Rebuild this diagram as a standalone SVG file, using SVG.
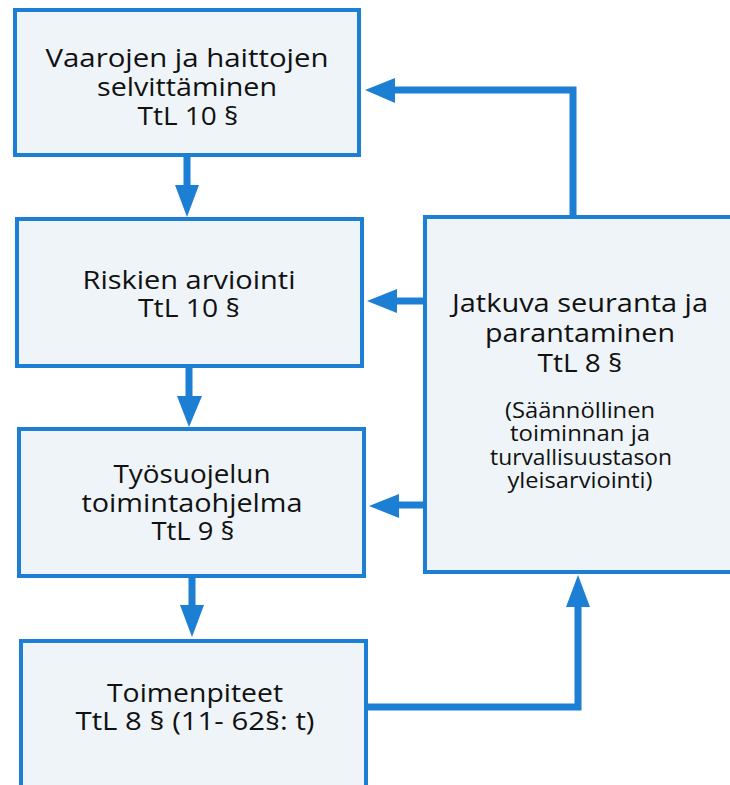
<svg xmlns="http://www.w3.org/2000/svg" width="730" height="785" viewBox="0 0 730 785">
<style>
.box{fill:#eef4f8;stroke:#1c7fd3;stroke-width:4}
.big{font-family:"Open Sans","Noto Sans",sans-serif;font-size:26px;fill:#111;text-anchor:middle}
.small{font-family:"Open Sans","Noto Sans",sans-serif;font-size:21px;fill:#111;text-anchor:middle}
.line{fill:none;stroke:#1c7fd3;stroke-width:7}
.head{fill:#1c7fd3}
</style>
<rect width="730" height="785" fill="#ffffff"/>
<g id="n1">
<rect class="box" x="15" y="10" width="344" height="145"/>
<text class="big" x="187" y="67" textLength="283" lengthAdjust="spacingAndGlyphs">Vaarojen ja haittojen</text>
<text class="big" x="187" y="96" textLength="180" lengthAdjust="spacingAndGlyphs">selvittäminen</text>
<text class="big" x="188" y="125" textLength="101" lengthAdjust="spacingAndGlyphs">TtL 10 §</text>
</g>
<g id="n2">
<rect class="box" x="17" y="219" width="345" height="147"/>
<text class="big" x="189" y="289" textLength="213" lengthAdjust="spacingAndGlyphs">Riskien arviointi</text>
<text class="big" x="189" y="317" textLength="102" lengthAdjust="spacingAndGlyphs">TtL 10 §</text>
</g>
<g id="n3">
<rect class="box" x="19" y="429" width="345" height="147"/>
<text class="big" x="192" y="483" textLength="157" lengthAdjust="spacingAndGlyphs">Työsuojelun</text>
<text class="big" x="192" y="512" textLength="221" lengthAdjust="spacingAndGlyphs">toimintaohjelma</text>
<text class="big" x="193" y="540" textLength="83" lengthAdjust="spacingAndGlyphs">TtL 9 §</text>
</g>
<g id="n4">
<rect class="box" x="21" y="641" width="345" height="160"/>
<text class="big" x="195" y="702" textLength="176" lengthAdjust="spacingAndGlyphs">Toimenpiteet</text>
<text class="big" x="195" y="730" textLength="239" lengthAdjust="spacingAndGlyphs">TtL 8 § (11- 62§: t)</text>
</g>
<g id="n5">
<rect class="box" x="425" y="217" width="320" height="355"/>
<text class="big" x="580" y="312" textLength="256" lengthAdjust="spacingAndGlyphs">Jatkuva seuranta ja</text>
<text class="big" x="580" y="342" textLength="190" lengthAdjust="spacingAndGlyphs">parantaminen</text>
<text class="big" x="580" y="372" textLength="85" lengthAdjust="spacingAndGlyphs">TtL 8 §</text>
<text class="small" x="580" y="418" textLength="150" lengthAdjust="spacingAndGlyphs">(Säännöllinen</text>
<text class="small" x="580" y="441" textLength="140" lengthAdjust="spacingAndGlyphs">toiminnan ja</text>
<text class="small" x="581" y="465" textLength="182" lengthAdjust="spacingAndGlyphs">turvallisuustason</text>
<text class="small" x="580" y="488" textLength="145" lengthAdjust="spacingAndGlyphs">yleisarviointi)</text>
</g>
<g id="connectors">
<path class="line" d="M187,157 V188"/>
<polygon class="head" points="175,185 199,185 187,217"/>
<path class="line" d="M189,368 V398"/>
<polygon class="head" points="177,396 202,396 189,427"/>
<path class="line" d="M192,578 V607"/>
<polygon class="head" points="180,605 204,605 192,637"/>
<path class="line" d="M368,707 H578 V604"/>
<polygon class="head" points="566,607 590,607 578,575"/>
<path class="line" d="M573,215 V90 H393"/>
<polygon class="head" points="395,78 395,103 365,90"/>
<path class="line" d="M423,301 H395"/>
<polygon class="head" points="397,289 397,313 367,301"/>
<path class="line" d="M423,505 H397"/>
<polygon class="head" points="399,494 399,518 369,506"/>
</g>
</svg>
